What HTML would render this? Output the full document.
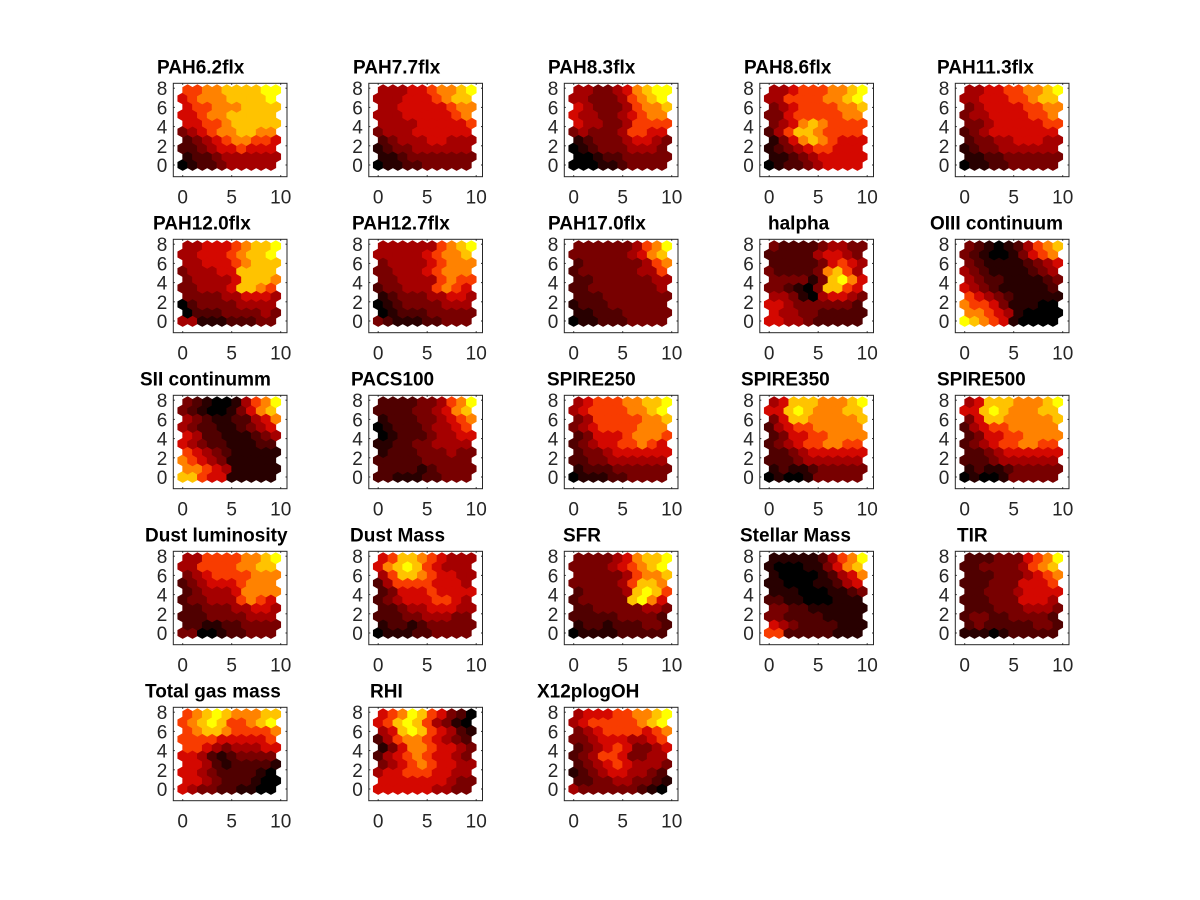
<!DOCTYPE html>
<html><head><meta charset="utf-8"><style>
html,body{margin:0;padding:0;background:#fff;}
svg{display:block;font-family:"Liberation Sans",sans-serif;}
</style></head><body>
<svg id="chart" width="1200" height="900" viewBox="0 0 1200 900" xmlns="http://www.w3.org/2000/svg">
<rect width="1200" height="900" fill="#fff"/>
</svg>
<script>
const titles = ["PAH6.2flx","PAH7.7flx","PAH8.3flx","PAH8.6flx","PAH11.3flx","PAH12.0flx","PAH12.7flx","PAH17.0flx","halpha","OIII continuum","SII continumm","PACS100","SPIRE250","SPIRE350","SPIRE500","Dust luminosity","Dust Mass","SFR","Stellar Mass","TIR","Total gas mass","RHI","X12plogOH"];
const titleLeft = [157,353,548,744,937,153,352,548,768,930,140,351,547,741,937,145,350,563,740,957,145,370,537];
const xTicks = [0,5,10];
const yTicks = [0,2,4,6,8];
// each plane: rows top (row 9) to bottom (row 0), digits 0..9
const p0=["6677888899","5677788889","5667778888","5567788888","5566788888","3456778877","2345677665","2234556555","1223444444","0122344444"];
const p1=["4445567789","4445556788","4455555677","4445555567","4444555556","3444555555","2344455444","1233444444","1123333333","0112233333"];
const p2=["4433457899","4433346789","5433346778","5443345677","5443346666","3433346655","1233345543","0123334443","0012233333","0001123333"];
const p3=["4456667789","4466667789","3456666778","3356666677","3457876666","2468876666","1357876555","1234566555","1123455555","0122345555"];
const p4=["4455667789","4455566788","3455556677","3445555667","3345555566","2345555555","2334455544","1233444444","1122333333","0112233333"];
const p5=["4455567889","4455567889","4455567888","3444558888","3444458887","3344458876","3333445554","0233334444","0222333343","4411122233"];
const p6=["4444446789","4444456778","3444456777","3344456777","3344446766","2334446765","1233344554","0123333444","0122233333","3211122333"];
const p7=["3333334679","3333334578","2333333467","2333333446","2233333344","2233333334","2223333333","1222333333","1122233333","0112223333"];
const p8=["3222234433","2222245543","2222235654","3222237864","3333138975","3321038865","4431045543","5543333332","5443322222","5544322222"];
const p9=["3210124678","3210013567","3211112345","4321111234","4322111123","5432111112","6543211111","7665311100","7765410000","9876510000"];
const p10=["3210014679","3210013578","4321122457","4322112345","5422111234","5432211122","6543211111","7654311111","7765411111","8865511111"];
const p11=["2222334679","2222334578","1222334567","0122234456","0122234455","1122334444","1222333433","2222233333","2222123333","2211122333"];
const p12=["4566677889","4566667789","3466666778","3456666777","2355567776","2345566765","2334555555","2233444444","1222333333","0111223333"];
const p13=["4588877789","5589877788","3588777778","2456677777","2355667777","2345667766","2234555555","2223444444","1211233333","0100133333"];
const p14=["4588877789","5589877788","3588777778","2456677777","2355667777","2345667766","2234555555","2223444444","1211233333","0100133333"];
const p15=["4466667789","4466667788","3456666777","2345556777","2344457777","2334446765","2233344554","2223333444","2211223333","3300122333"];
const p16=["5688765444","5789865444","4688765544","2466665554","2355565555","2345556654","2234455544","2223344433","1221233333","0111223333"];
const p17=["3333457889","3333456789","3333346778","3333346887","2333348986","2333338975","2233333443","2222233332","1221222332","0111122222"];
const p18=["1111124679","1000113578","1000012457","1100011245","1110001123","2211000111","3322111111","3322221111","5432222111","6622222111"];
const p19=["2223335679","2233334678","2223334567","2223335556","2233345555","2223335554","2223334443","2332233332","2322222332","1110122222"];
const p20=["6789877788","6789866789","6788766667","6666555556","6654344455","5542123333","5542122221","5543222210","5543222100","5433221100"];
const p21=["5679865320","5689864310","4589865421","2467765432","1357765543","2456765543","3456765544","4556665544","5555555433","5555554433"];
const p22=["4555667789","4566666789","3456666567","3345554456","2345653345","2346653344","2345654443","1234554432","2233443321","4333333210"];
const planes=[p0,p1,p2,p3,p4,p5,p6,p7,p8,p9,p10,p11,p12,p13,p14,p15,p16,p17,p18,p19,p20,p21,p22];

const NS="http://www.w3.org/2000/svg";
const svg=document.getElementById('chart');
const stops=[[0,0,0],[40,0,0],[80,0,0],[120,0,0],[165,0,0],[212,8,0],[248,60,0],[255,130,0],[255,195,0],[255,255,0]];
function color(d){const c=stops[d];return `rgb(${c[0]},${c[1]},${c[2]})`;}
function mk(tag,attrs,parent){const e=document.createElementNS(NS,tag);for(const k in attrs)e.setAttribute(k,attrs[k]);parent.appendChild(e);return e;}
const sx=9.8, sy=9.6;
titles.forEach((t,i)=>{
  const c=i%5, r=Math.floor(i/5);
  const bl=173.3+c*195.5, bt=83.3+r*156, bw=113.7, bh=93.4;
  const x0=bl+9.4, y0=bt+81.7;
  const xs=v=>x0+v*sx, ys=v=>y0-v*sy;
  const g=mk('g',{},svg);
  
  
  const data=planes[i];
  for(let row=0;row<10;row++){
    const str=data[9-row];
    for(let col=0;col<10;col++){
      const d=+str[col];
      const cx=xs(col+(row%2?0.5:0)), cy=ys(row*0.8660254);
      const rx=0.5*sx+0.35, ry=0.57735*sy+0.35;
      const pts=[[cx,cy-ry],[cx+rx,cy-ry/2],[cx+rx,cy+ry/2],[cx,cy+ry],[cx-rx,cy+ry/2],[cx-rx,cy-ry/2]].map(p=>p[0].toFixed(2)+','+p[1].toFixed(2)).join(' ');
      const h=mk('polygon',{points:pts,fill:color(d)},g);
      
      
    }
  }
  const box=mk('rect',{x:bl,y:bt,width:bw,height:bh,fill:'none',stroke:'#262626','stroke-width':1},g);
  
  
  xTicks.forEach(v=>{
    const x=xs(v);
    mk('line',{x1:x,x2:x,y1:bt+bh,y2:bt+bh-1.5,stroke:'#262626'},g);
    mk('line',{x1:x,x2:x,y1:bt,y2:bt+1.5,stroke:'#262626'},g);
    const tl=mk('text',{x:x,y:bt+bh+27,'font-size':19,'text-anchor':'middle',fill:'#262626'},g);
    tl.textContent=v;
    
    
  });
  yTicks.forEach(v=>{
    const y=ys(v);
    mk('line',{x1:bl,x2:bl+1.5,y1:y,y2:y,stroke:'#262626'},g);
    mk('line',{x1:bl+bw,x2:bl+bw-1.5,y1:y,y2:y,stroke:'#262626'},g);
    const tl=mk('text',{x:bl-6,y:y+7,'font-size':19,'text-anchor':'end',fill:'#262626'},g);
    tl.textContent=v;
    
    
  });
  const tt=mk('text',{x:titleLeft[i],y:bt-10,'font-size':19,'font-weight':'bold',fill:'#000'},g);
  tt.textContent=t;
  
  
});
</script>
</body></html>
